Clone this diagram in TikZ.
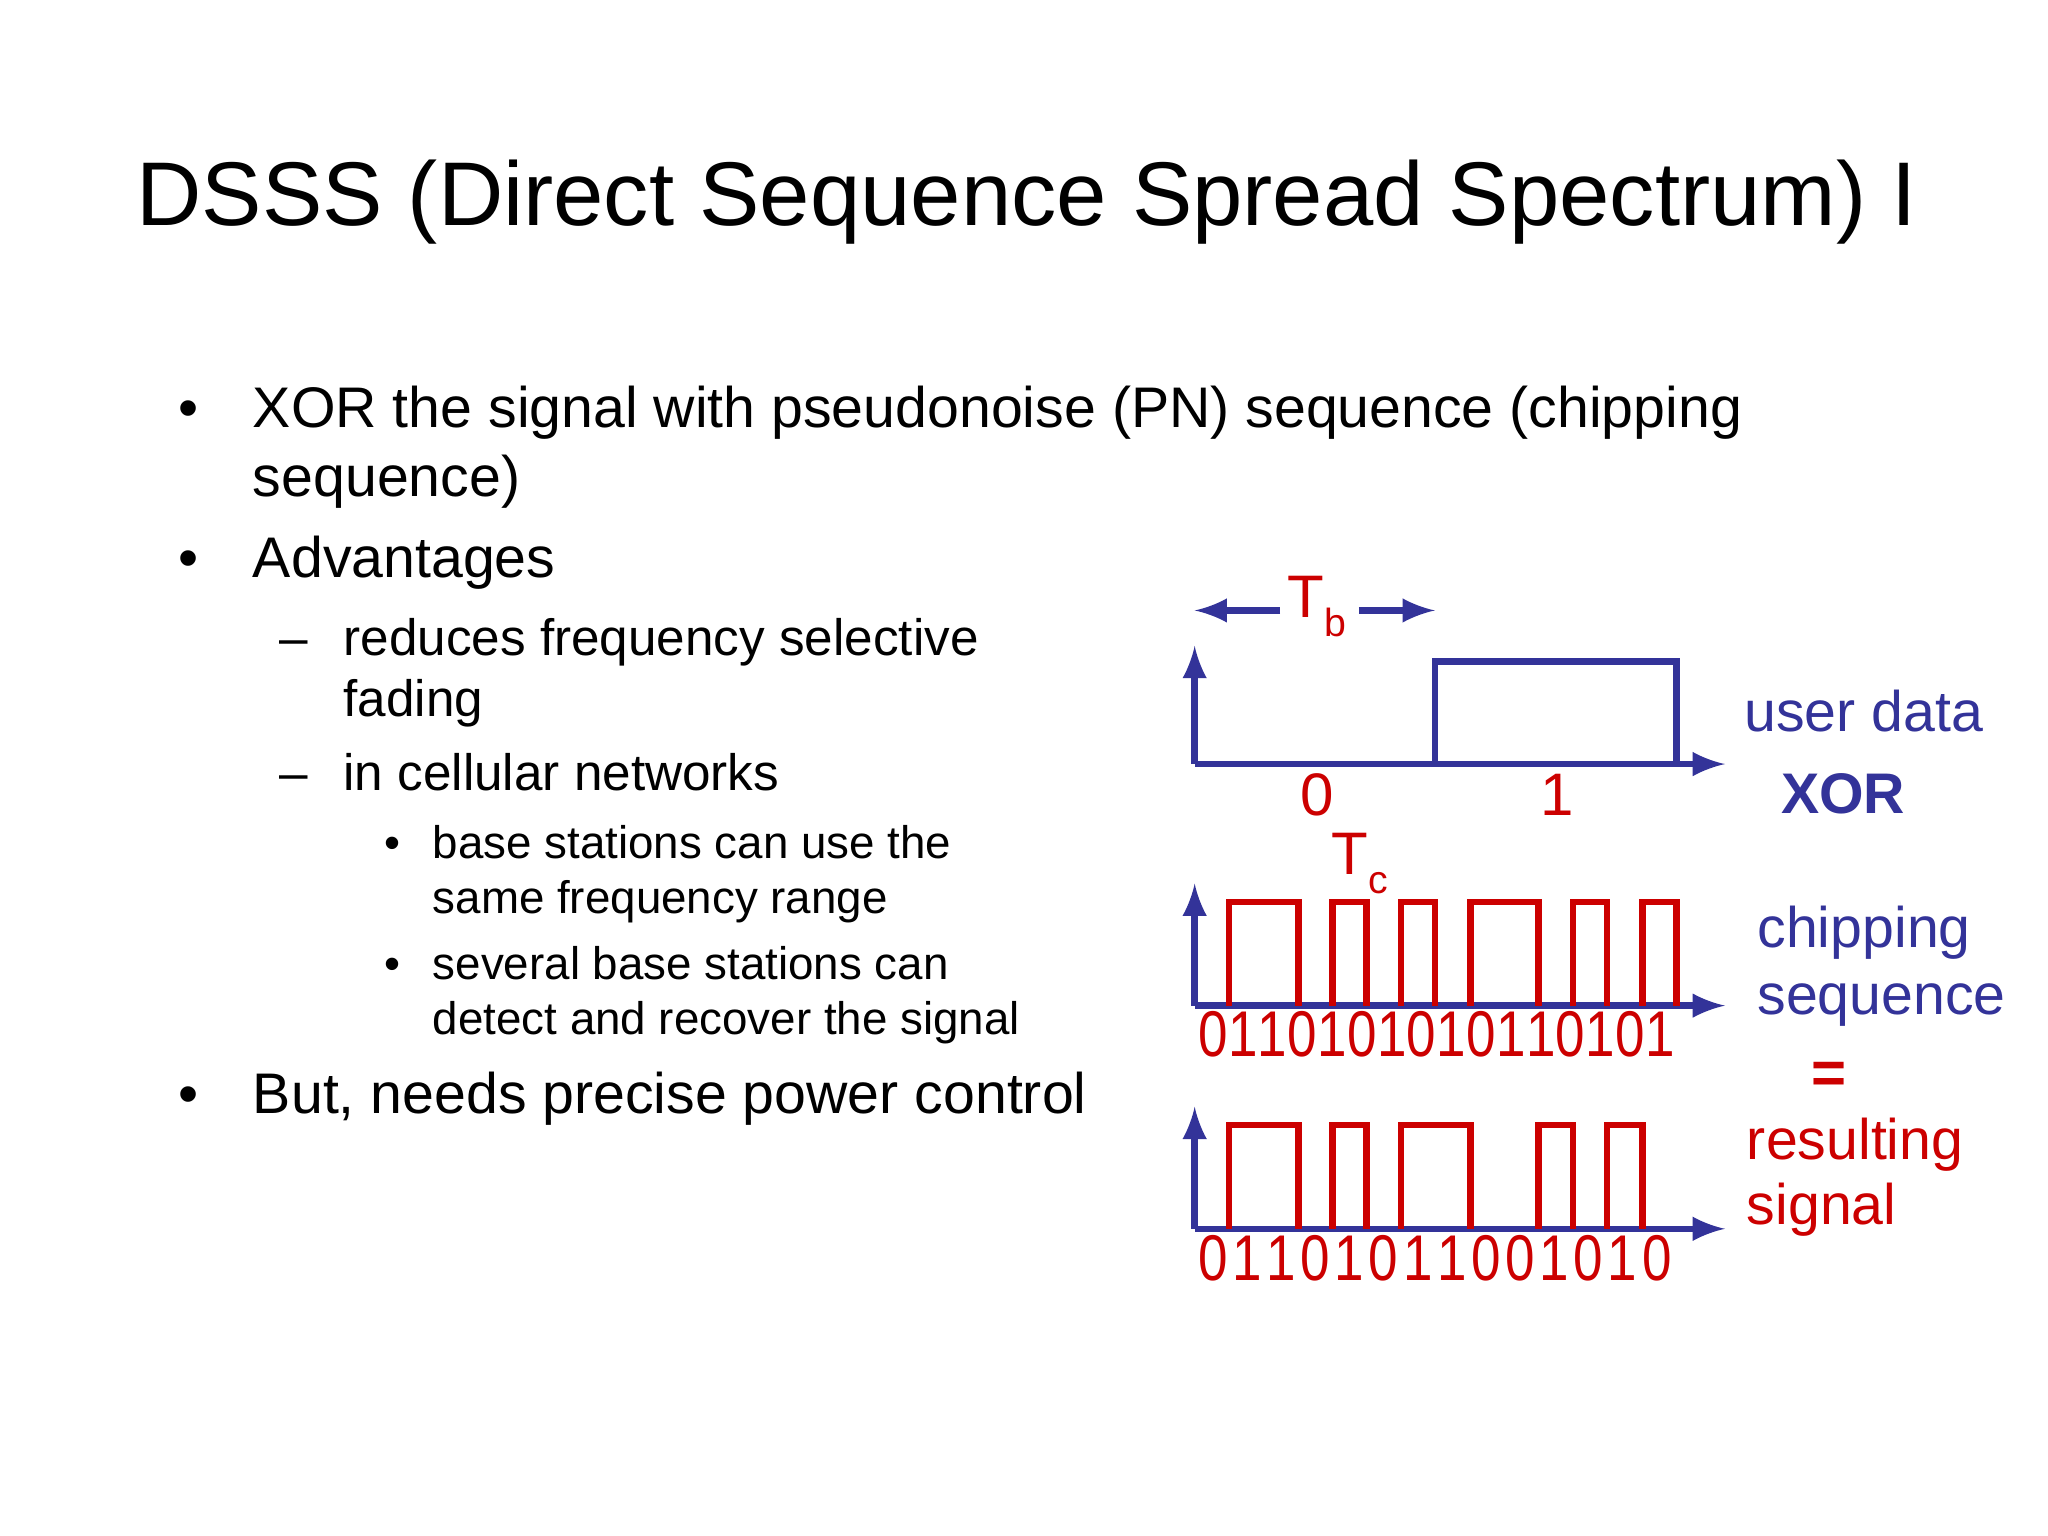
\documentclass[tikz,border=0pt]{standalone}
\usepackage{fontspec}
\setmainfont{Liberation Sans}
\definecolor{dblue}{RGB}{51,51,153}
\definecolor{dred}{RGB}{204,0,0}
\begin{document}
\begin{tikzpicture}[x=0.01cm,y=-0.01cm,
  ax/.style={dblue,line width=1.4pt,-latex},
  sig/.style={line width=1.4pt},
  txt/.style={anchor=base west,inner sep=0,font=\fontsize{12.4}{14}\selectfont},
  sub/.style={anchor=base west,inner sep=0,font=\fontsize{11.1}{13}\selectfont},
  subsub/.style={anchor=base west,inner sep=0,font=\fontsize{9.9}{12}\selectfont},
  dig/.style={dred,inner sep=0,anchor=base,xscale=0.82,font=\fontsize{14}{16}\selectfont},
  lab/.style={anchor=base west,inner sep=0,font=\fontsize{12.4}{15}\selectfont}]
\useasboundingbox[fill=white] (0,0) rectangle (1560,1170);
\node[anchor=base,inner sep=0,font=\fontsize{19.6}{24}\selectfont] (title) at (782,172) {DSSS (Direct Sequence Spread Spectrum) I};
% bullets
\node[txt] (b1) at (135,326) {•}; \node[txt] (t1) at (192,326) {XOR the signal with pseudonoise (PN) sequence (chipping};
\node[txt] (t1b) at (192,378) {sequence)};
\node[txt] (b2) at (135,440) {•}; \node[txt] (t2) at (192,440) {Advantages};
\node[sub] (d1) at (212,499) {–}; \node[sub] (s1) at (261,499) {reduces frequency selective};
\node[sub] (s1b) at (261,546) {fading};
\node[sub] (d2) at (212,602) {–}; \node[sub] (s2) at (261,602) {in cellular networks};
\node[subsub] (e1) at (292,654) {•}; \node[subsub] (u1) at (329,654) {base stations can use the};
\node[subsub] (u1b) at (329,696) {same frequency range};
\node[subsub] (e2) at (292,746) {•}; \node[subsub] (u2) at (329,746) {several base stations can};
\node[subsub] (u2b) at (329,788) {detect and recover the signal};
\node[txt] (b3) at (135,848) {•}; \node[txt] (t3) at (192,848) {But, needs precise power control};
% user data
\coordinate (o1) at (910,582);
\draw[ax] (o1) -- (910,492);
\draw[ax] (o1) -- (1314,582);
\draw[dblue,sig] (1093,582) -- (1093,504) -- (1277,504) -- (1277,582);
\node[dred,inner sep=0,font=\fontsize{13}{16}\selectfont] (tb) at (1003,462) {T\raisebox{-0.6ex}{\fontsize{8.5}{10}\selectfont b}};
\coordinate (tbl) at (910,465); \coordinate (tbr) at (1093,465);
\draw[dblue,line width=1.4pt,-latex] (975,465) -- (tbl);
\draw[dblue,line width=1.4pt,-latex] (1035,465) -- (tbr);
\node[dred,inner sep=0,anchor=base,font=\fontsize{13}{16}\selectfont] (z0) at (1003,621) {0};
\node[dred,inner sep=0,anchor=base,font=\fontsize{13}{16}\selectfont] (z1) at (1186,621) {1};
\node[lab,dblue] (ud) at (1328,557) {user data};
\node[anchor=base,inner sep=0,dblue,font=\bfseries\fontsize{12.4}{15}\selectfont] (xor) at (1404,620) {XOR};
% chipping
\draw[ax] (910,766) -- (910,673);
\draw[ax] (910,766) -- (1314,766);
\draw[dred,sig] (936,766) -- (936,687) -- (989,687) -- (989,766)
  (1015,766) -- (1015,687) -- (1041,687) -- (1041,766)
  (1067,766) -- (1067,687) -- (1093,687) -- (1093,766)
  (1120,766) -- (1120,687) -- (1172,687) -- (1172,766)
  (1198,766) -- (1198,687) -- (1224,687) -- (1224,766)
  (1251,766) -- (1251,687) -- (1277,687) -- (1277,766);
\node[dred,inner sep=0,font=\fontsize{13}{16}\selectfont] (tc) at (1036,658) {T\raisebox{-0.6ex}{\fontsize{8.5}{10}\selectfont c}};
\foreach \d [count=\i from 0] in {0,1,1,0,1,0,1,0,1,0,1,1,0,1,0,1}
  \node[dig] (c\i) at ({924+22.7*\i},805) {\d};
\node[lab,dblue] (cs1) at (1338,722) {chipping};
\node[lab,dblue] (cs2) at (1338,773) {sequence};
\node[anchor=base,inner sep=0,dred,font=\bfseries\fontsize{13}{16}\selectfont] (eq) at (1393,833) {=};
% result
\draw[ax] (910,936) -- (910,843);
\draw[ax] (910,936) -- (1314,936);
\draw[dred,sig] (936,936) -- (936,857) -- (989,857) -- (989,936)
  (1015,936) -- (1015,857) -- (1041,857) -- (1041,936)
  (1067,936) -- (1067,857) -- (1120,857) -- (1120,936)
  (1172,936) -- (1172,857) -- (1198,857) -- (1198,936)
  (1224,936) -- (1224,857) -- (1251,857) -- (1251,936);
\foreach \d [count=\i from 0] in {0,1,1,0,1,0,1,1,0,0,1,0,1,0}
  \node[dig] (r\i) at ({924+26*\i},975) {\d};
\node[lab,dred] (rs1) at (1330,883) {resulting};
\node[lab,dred] (rs2) at (1330,933) {signal};
\end{tikzpicture}
\end{document}
